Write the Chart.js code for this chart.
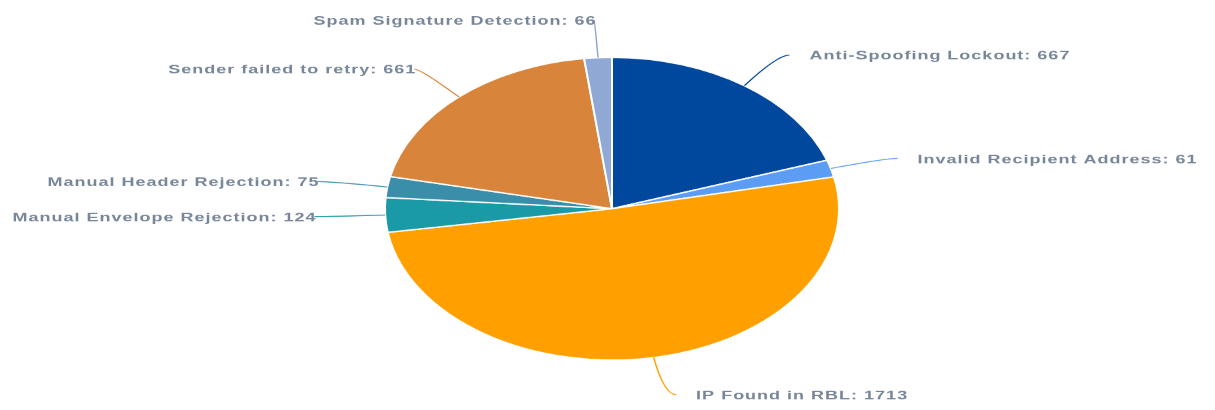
<!DOCTYPE html>
<html>
<head>
<meta charset="utf-8">
<script src="https://cdn.jsdelivr.net/npm/chart.js@4"></script>
<style>
  html, body { margin: 0; padding: 0; background: #fff; overflow: hidden; }
  /* the reference pie is squashed vertically, so draw tall and squeeze */
  #wrap { width: 1215px; height: 615px; transform: scale(1, 0.6667); transform-origin: 0 0; }
</style>
</head>
<body>
<div id="wrap"><canvas id="rejectChart" width="1215" height="615"></canvas></div>
<script>
// ===============================
// Rejection reasons data
// ===============================
const categories = [
  "Anti-Spoofing Lockout",
  "Invalid Recipient Address",
  "IP Found in RBL",
  "Manual Envelope Rejection",
  "Manual Header Rejection",
  "Sender failed to retry",
  "Spam Signature Detection"
];
const counts = [667, 61, 1713, 124, 75, 661, 66];
const sliceColors = ["#00479e", "#5b9cf5", "#ffa000", "#1a99a6", "#3a8ea9", "#d9843b", "#8fa8d4"];

// ===============================
// Leader lines + labels
// ===============================
const calloutLabels = {
  id: "calloutLabels",
  afterDatasetsDraw(chart) {
    const ctx = chart.ctx;
    const arcs = chart.getDatasetMeta(0).data;
    ctx.save();
    ctx.font = "bold 18px 'Liberation Sans', Arial, sans-serif";
    ctx.letterSpacing = "1px";
    ctx.textBaseline = "middle";
    arcs.forEach((arc, i) => {
      const p = arc.getProps(["x", "y", "startAngle", "endAngle", "outerRadius"], true);
      const mid = (p.startAngle + p.endAngle) / 2;
      const cx = Math.cos(mid), cy = Math.sin(mid);
      const side = cx >= 0 ? 1 : -1;
      const sx = p.x + p.outerRadius * cx, sy = p.y + p.outerRadius * cy;
      const kx = p.x + p.outerRadius * 1.25 * cx, ky = p.y + p.outerRadius * 1.25 * cy;
      // right side labels get a short tail and a gap, left side ones sit on the line end
      const tail = side > 0 ? 12 : 14 * cx * cx;
      const ex = kx + side * tail, ey = ky;

      ctx.strokeStyle = sliceColors[i];
      ctx.lineWidth = 1.5;
      ctx.beginPath();
      ctx.moveTo(sx, sy);
      ctx.quadraticCurveTo(kx, ky, ex, ey);
      ctx.stroke();

      ctx.fillStyle = "#778699";
      ctx.textAlign = side > 0 ? "left" : "right";
      const text = categories[i] + ": " + counts[i];
      ctx.fillText(text, side > 0 ? ex + 20 : ex + 2, ey + 2);
    });
    ctx.restore();
  }
};

new Chart(document.getElementById("rejectChart"), {
  type: "pie",
  data: {
    labels: categories,
    datasets: [{
      data: counts,
      backgroundColor: sliceColors,
      borderColor: "#ffffff",
      borderWidth: 2
    }]
  },
  options: {
    responsive: false,
    devicePixelRatio: 1,
    animation: false,
    layout: { padding: { top: 85, bottom: 74, left: 9, right: 0 } },
    plugins: {
      legend: { display: false },
      tooltip: { enabled: false }
    }
  },
  plugins: [calloutLabels]
});
</script>
</body>
</html>
